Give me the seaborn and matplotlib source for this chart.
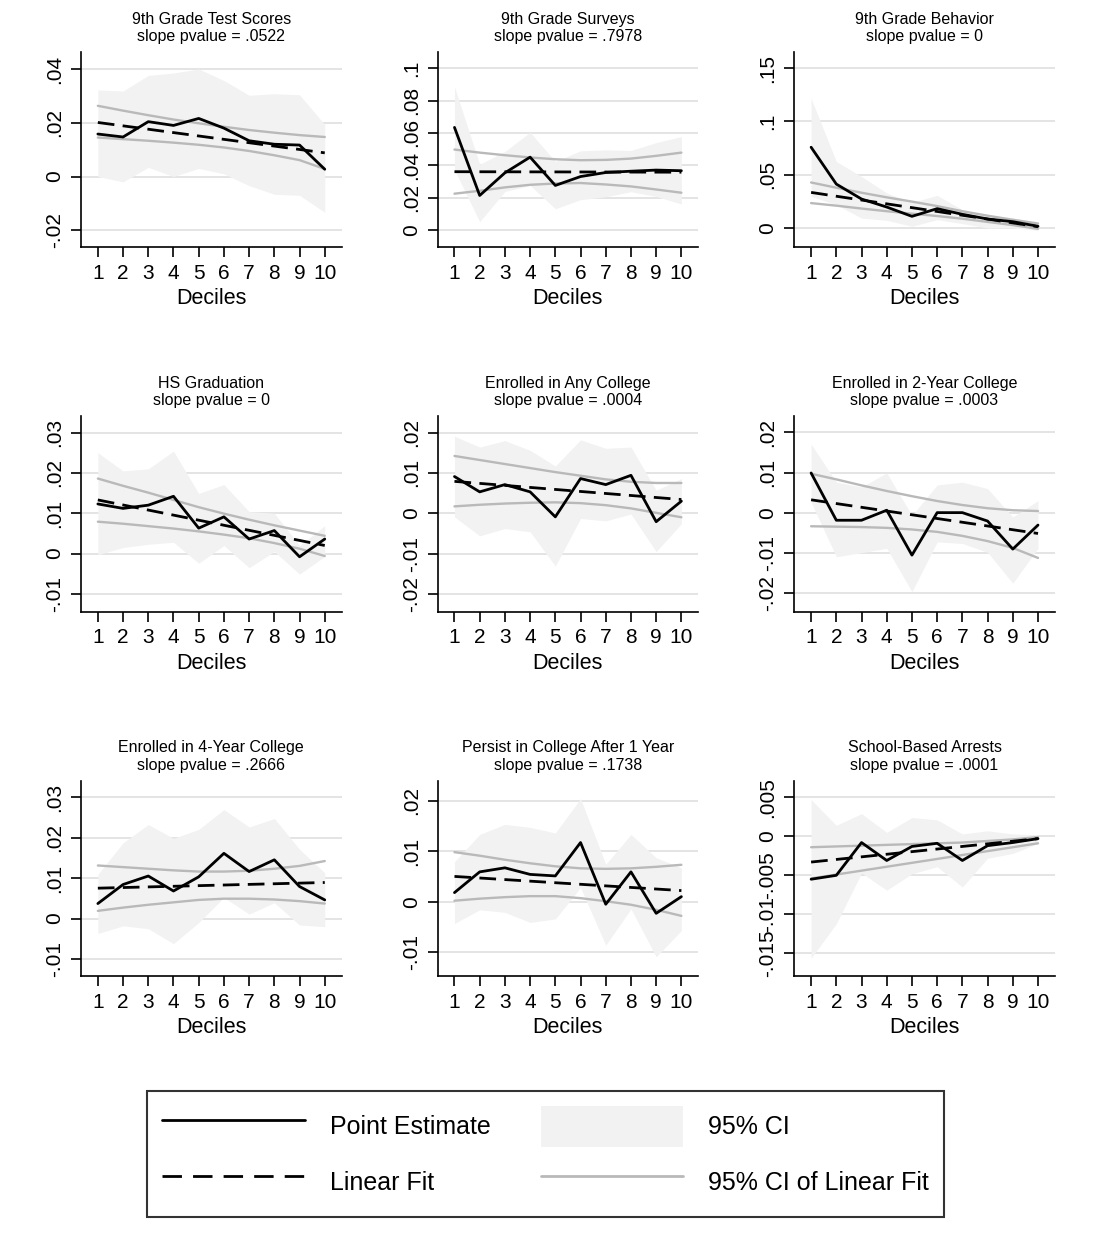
import pandas as pd
import seaborn as sns
import matplotlib.pyplot as plt
from matplotlib.lines import Line2D
from matplotlib.patches import Patch

# values, one list per panel
deciles = [1, 2, 3, 4, 5, 6, 7, 8, 9, 10]

titles = ['9th Grade Test Scores', '9th Grade Surveys', '9th Grade Behavior',
          'HS Graduation', 'Enrolled in Any College', 'Enrolled in 2-Year College',
          'Enrolled in 4-Year College', 'Persist in College After 1 Year', 'School-Based Arrests']
pvalues = ['.0522', '.7978', '0', '0', '.0004', '.0003', '.2666', '.1738', '.0001']

point_est = [
    [.0158, .0147, .0204, .0190, .0216, .0180, .0133, .0120, .0117, .0027],
    [.0634, .0213, .0353, .0450, .0275, .0330, .0355, .0363, .0370, .0366],
    [.0759, .0414, .0274, .0199, .0112, .0184, .0131, .0087, .0062, .0019],
    [.0123, .0112, .0120, .0142, .0063, .0091, .0036, .0057, -.0008, .0036],
    [.0091, .0053, .0071, .0053, -.0009, .0086, .0071, .0094, -.0021, .0030],
    [.0099, -.0019, -.0019, .0006, -.0106, .0000, .0000, -.0021, -.0091, -.0031],
    [.0037, .0084, .0105, .0068, .0103, .0161, .0116, .0145, .0079, .0046],
    [.0018, .0059, .0067, .0054, .0051, .0117, -.0005, .0059, -.0023, .0010],
    [-.0055, -.0050, -.0008, -.0031, -.0013, -.0009, -.0031, -.0012, -.0008, -.0003],
]

# linear fit, value at decile 1 and decile 10
linfit_x = [1, 10]
linfit = [
    [.0201, .0088], [.0360, .0357], [.0336, .0015],
    [.0133, .0020], [.0079, .0034], [.0032, -.0052],
    [.0075, .0089], [.0050, .0022], [-.0033, -.0003],
]

fit_hi = [
    [.0263, .0245, .0228, .0212, .0198, .0185, .0173, .0163, .0154, .0147],
    [.0497, .0478, .0462, .0448, .0437, .0431, .0433, .0441, .0458, .0478],
    [.0429, .0380, .0333, .0290, .0250, .0208, .0160, .0118, .0080, .0045],
    [.0186, .0168, .0151, .0133, .0115, .0099, .0084, .0070, .0057, .0044],
    [.0142, .0132, .0122, .0112, .0102, .0093, .0084, .0078, .0075, .0075],
    [.0097, .0083, .0068, .0054, .0041, .0029, .0019, .0011, .0006, .0004],
    [.0131, .0127, .0123, .0119, .0116, .0116, .0118, .0123, .0130, .0142],
    [.0098, .0091, .0083, .0076, .0070, .0066, .0065, .0066, .0069, .0073],
    [-.0014, -.0013, -.0012, -.0011, -.0010, -.0009, -.0008, -.0006, -.0004, -.0001],
]
fit_lo = [
    [.0145, .0139, .0133, .0126, .0118, .0108, .0095, .0079, .0061, .0028],
    [.0224, .0242, .0263, .0279, .0287, .0290, .0281, .0269, .0250, .0230],
    [.0236, .0212, .0185, .0160, .0137, .0115, .0090, .0060, .0030, -.0005],
    [.0079, .0074, .0068, .0062, .0055, .0047, .0038, .0026, .0012, -.0006],
    [.0017, .0021, .0024, .0026, .0027, .0025, .0020, .0012, .0001, -.0010],
    [-.0034, -.0035, -.0036, -.0038, -.0042, -.0048, -.0058, -.0071, -.0088, -.0113],
    [.0019, .0027, .0034, .0040, .0046, .0049, .0049, .0047, .0043, .0037],
    [.0002, .0006, .0009, .0011, .0011, .0007, .0001, -.0006, -.0016, -.0028],
    [-.0054, -.0049, -.0044, -.0039, -.0034, -.0029, -.0024, -.0019, -.0014, -.0009],
]

ci_hi = [
    [.0322, .0318, .0376, .0385, .0400, .0357, .0302, .0308, .0304, .0193],
    [.0885, .0406, .0485, .0604, .0423, .0489, .0495, .0491, .0540, .0577],
    [.1216, .0625, .0485, .0330, .0243, .0308, .0174, .0112, .0096, .0050],
    [.0250, .0205, .0210, .0254, .0149, .0171, .0104, .0100, .0020, .0069],
    [.0191, .0164, .0180, .0156, .0117, .0182, .0161, .0164, .0057, .0086],
    [.0171, .0076, .0064, .0099, -.0007, .0069, .0076, .0060, -.0011, .0030],
    [.0109, .0187, .0232, .0198, .0220, .0269, .0226, .0247, .0171, .0113],
    [.0079, .0133, .0153, .0147, .0136, .0204, .0074, .0133, .0087, .0067],
    [.0047, .0014, .0029, .0005, .0024, .0021, .0003, .0007, .0003, .0002],
]
ci_lo = [
    [.0000, -.0020, .0034, .0000, .0030, .0010, -.0034, -.0066, -.0070, -.0133],
    [.0372, .0051, .0238, .0275, .0131, .0187, .0205, .0236, .0207, .0160],
    [.0299, .0221, .0096, .0075, .0019, .0081, .0044, .0003, .0003, -.0019],
    [-.0003, .0015, .0023, .0028, -.0024, .0020, -.0035, .0005, -.0051, -.0007],
    [-.0009, -.0056, -.0038, -.0046, -.0131, -.0013, -.0019, -.0002, -.0095, -.0026],
    [.0026, -.0110, -.0100, -.0089, -.0197, -.0073, -.0077, -.0099, -.0176, -.0089],
    [-.0037, -.0018, -.0025, -.0062, -.0010, .0052, .0011, .0039, -.0016, -.0020],
    [-.0043, -.0016, -.0021, -.0041, -.0034, .0028, -.0086, -.0014, -.0109, -.0057],
    [-.0156, -.0112, -.0047, -.0069, -.0048, -.0039, -.0065, -.0028, -.0022, -.0009],
]

yticks = [
    [-.02, 0, .02, .04], [0, .02, .04, .06, .08, .1], [0, .05, .1, .15],
    [-.01, 0, .01, .02, .03], [-.02, -.01, 0, .01, .02], [-.02, -.01, 0, .01, .02],
    [-.01, 0, .01, .02, .03], [-.01, 0, .01, .02], [-.015, -.01, -.005, 0, .005],
]
ytick_labels = [
    ['-.02', '0', '.02', '.04'], ['0', '.02', '.04', '.06', '.08', '.1'], ['0', '.05', '.1', '.15'],
    ['-.01', '0', '.01', '.02', '.03'], ['-.02', '-.01', '0', '.01', '.02'], ['-.02', '-.01', '0', '.01', '.02'],
    ['-.01', '0', '.01', '.02', '.03'], ['-.01', '0', '.01', '.02'], ['-.015', '-.01', '-.005', '0', '.005'],
]
ylims = [(-.0263, .0463), (-.0107, .110), (-.0177, .165),
         (-.0144, .034), (-.0244, .024), (-.0247, .024),
         (-.0142, .034), (-.0147, .0239), (-.0179, .0071)]

sns.set_style('ticks')
plt.rcParams['font.family'] = ['Liberation Sans', 'DejaVu Sans']
plt.rcParams['text.color'] = 'black'
plt.rcParams['axes.labelcolor'] = 'black'
plt.rcParams['xtick.color'] = 'black'
plt.rcParams['ytick.color'] = 'black'

band_col = '#f2f2f2'
fitci_col = '#b9b9b9'
dash = (0, (6, 3))

fig, axes = plt.subplots(3, 3, figsize=(11, 12.33), dpi=100)
fig.subplots_adjust(left=0.0736, right=0.959, top=0.9578, bottom=0.2084,
                    wspace=0.368, hspace=0.867)

for i, ax in enumerate(axes.flat):
    df = pd.DataFrame({'decile': deciles, 'est': point_est[i],
                       'lo': ci_lo[i], 'hi': ci_hi[i],
                       'flo': fit_lo[i], 'fhi': fit_hi[i]})
    fit_df = pd.DataFrame({'decile': linfit_x, 'fit': linfit[i]})

    ax.fill_between(df['decile'], df['lo'], df['hi'], color=band_col, lw=0, zorder=1)
    sns.lineplot(data=df, x='decile', y='fhi', color=fitci_col, lw=1.7, ax=ax, zorder=2)
    sns.lineplot(data=df, x='decile', y='flo', color=fitci_col, lw=1.7, ax=ax, zorder=2)
    sns.lineplot(data=fit_df, x='decile', y='fit', color='black', lw=2, linestyle=dash, ax=ax, zorder=3)
    sns.lineplot(data=df, x='decile', y='est', color='black', lw=2, ax=ax, zorder=4)

    ax.set_xlim(0.33, 10.67)
    ax.set_ylim(*ylims[i])
    ax.set_xticks(deciles)
    ax.set_yticks(yticks[i])
    ax.set_yticklabels(ytick_labels[i], rotation=90, va='center')
    ax.set_xlabel('Deciles', fontsize=15.5, labelpad=4)
    ax.set_ylabel('')
    ax.set_title(f'{titles[i]}\nslope pvalue = {pvalues[i]}', fontsize=11.5, pad=8)

    ax.yaxis.grid(True, color='#e4e4e4', lw=1.4)
    ax.xaxis.grid(False)
    ax.set_axisbelow(True)
    ax.tick_params(axis='x', labelsize=15, length=7, width=1.2, color='black', pad=5)
    ax.tick_params(axis='y', labelsize=15, length=7, width=1.2, color='black', pad=5)
    sns.despine(ax=ax)
    for s in ['left', 'bottom']:
        ax.spines[s].set_linewidth(1.2)
        ax.spines[s].set_color('black')

handles = [
    Line2D([], [], color='black', lw=2),
    Line2D([], [], color='black', lw=2, linestyle=(0, (7, 4))),
    Patch(facecolor=band_col, edgecolor='none'),
    Line2D([], [], color=fitci_col, lw=2),
]
labels = ['Point Estimate', 'Linear Fit', '95% CI', '95% CI of Linear Fit']
leg = fig.legend(handles, labels, loc='center', bbox_to_anchor=(0.496, 0.064), ncol=2,
                 frameon=True, fancybox=False, edgecolor='black',
                 prop={'family': ['Liberation Sans'], 'size': 18},
                 handlelength=5.7, handleheight=2.1, handletextpad=1.0,
                 columnspacing=2.0, labelspacing=0.6, borderpad=0.6)
leg.get_frame().set_linewidth(1.5)

plt.savefig('out.png', dpi=100)
